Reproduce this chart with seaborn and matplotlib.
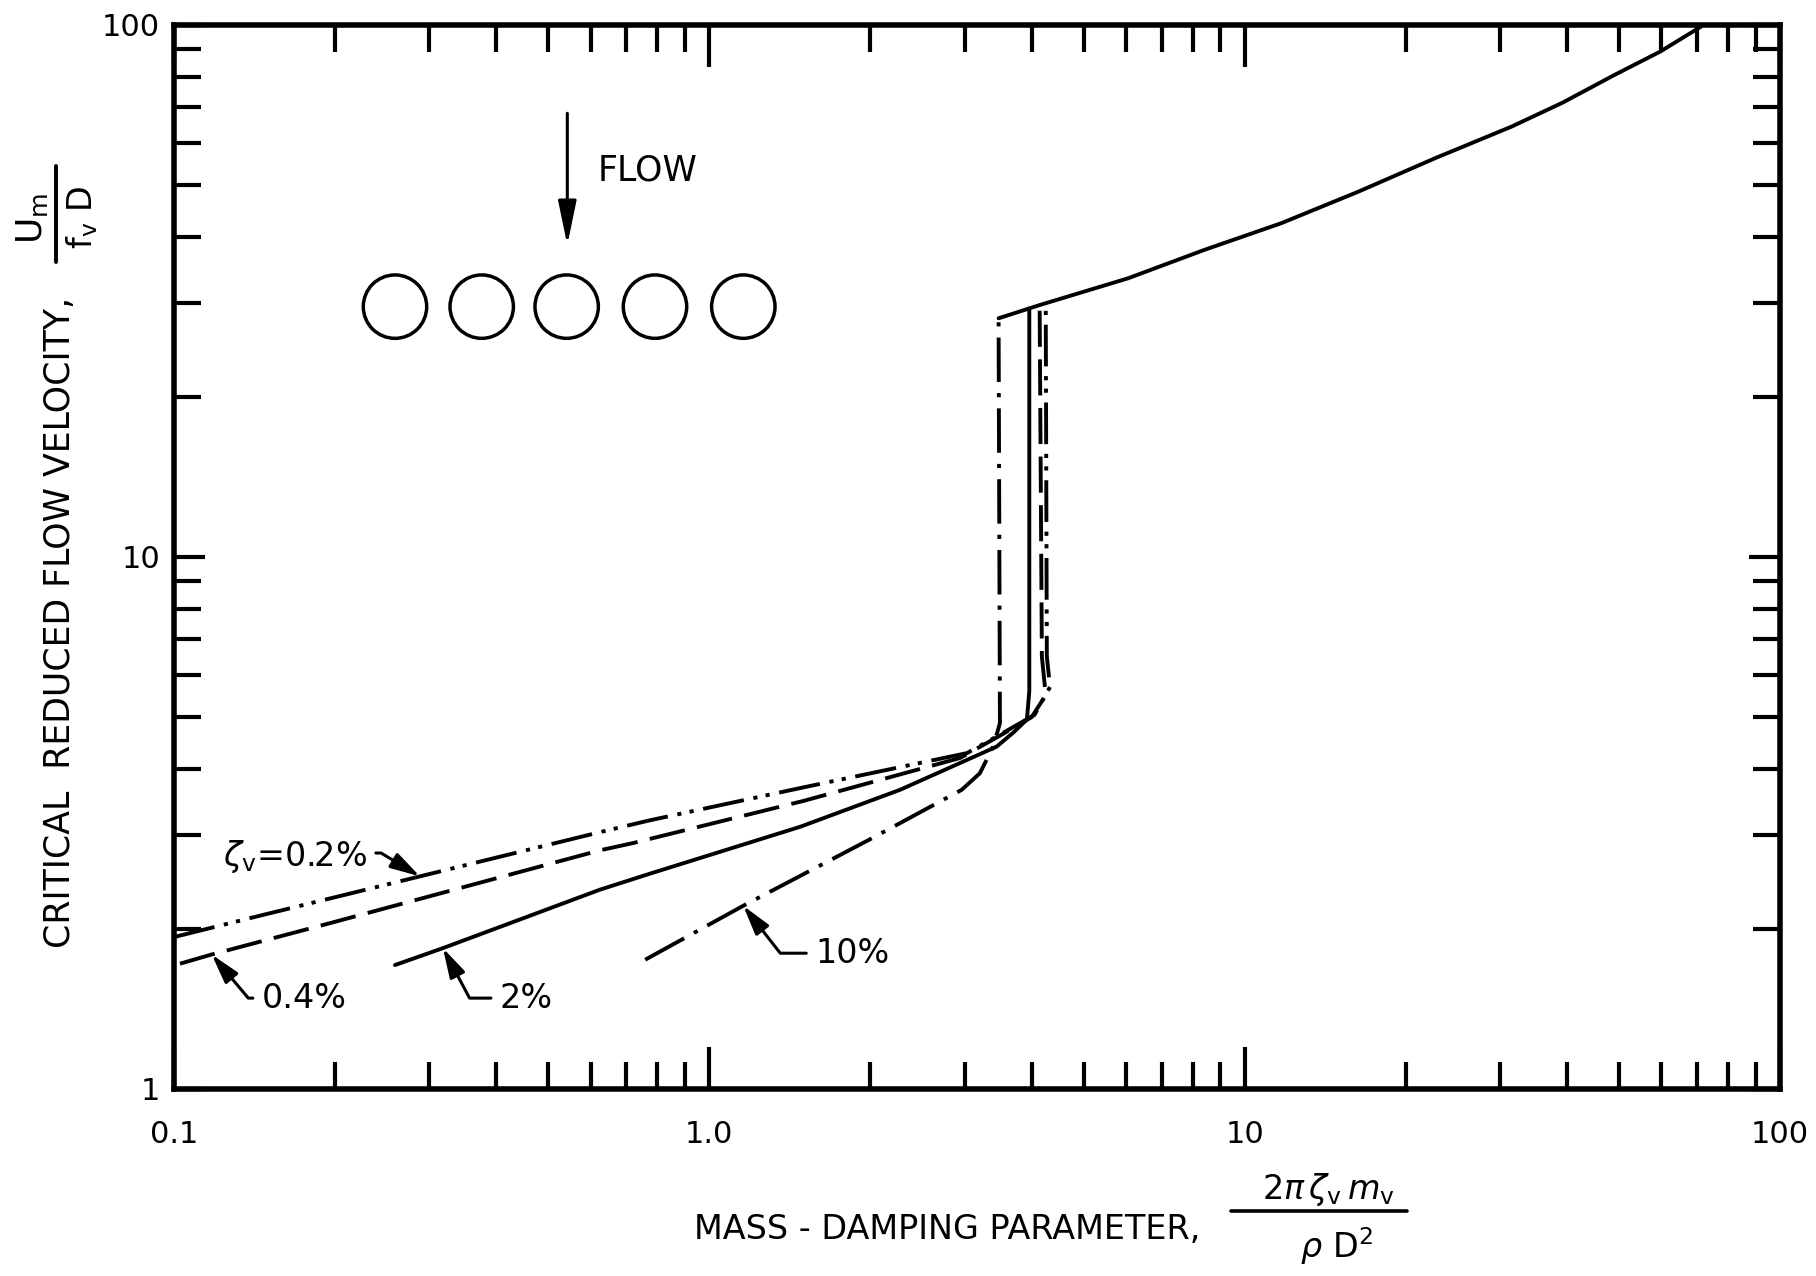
import numpy as np
import pandas as pd
import matplotlib
matplotlib.use("Agg")
import matplotlib.pyplot as plt
import seaborn as sns
from matplotlib.patches import Ellipse
from matplotlib.lines import Line2D
from matplotlib.ticker import FixedLocator, FixedFormatter, LogLocator, NullFormatter

# ---------------- data ----------------
# common upper branch (all damping ratios)
upper_x = [3.47, 4.16, 6.05, 8.42, 11.7, 16.3, 22.7, 31.5, 39.3, 49.0, 59.7, 71.2]
upper_y = [28.1, 29.8, 33.4, 37.8, 42.4, 48.6, 56.2, 64.4, 71.5, 80.5, 89.1, 99.3]

# zeta_v = 0.2 %  (dash-dot-dot)
z02_x = [0.100, 0.1427, 0.288, 0.625, 0.775, 1.50, 3.03, 3.47, 4.05, 4.33, 4.27, 4.25]
z02_y = [1.93, 2.11, 2.51, 3.04, 3.20, 3.69, 4.28, 4.62, 5.05, 5.70, 6.50, 30.0]

# zeta_v = 0.4 %  (dashed)
z04_x = [0.1026, 0.1176, 0.1956, 0.625, 0.721, 1.50, 2.94, 3.47, 4.00, 4.25, 4.18, 4.14]
z04_y = [1.72, 1.79, 2.05, 2.81, 2.90, 3.48, 4.19, 4.60, 5.00, 5.50, 6.50, 29.8]

# zeta_v = 2 %  (solid)
z2_x = [0.2587, 0.318, 0.625, 0.775, 1.477, 2.27, 3.44, 3.70, 3.92, 3.96, 3.96]
z2_y = [1.71, 1.84, 2.37, 2.54, 3.11, 3.65, 4.40, 4.68, 4.95, 5.60, 29.3]

# zeta_v = 10 %  (dash-dot)
z10_x = [0.759, 1.157, 2.00, 2.96, 3.20, 3.39, 3.49, 3.47]
z10_y = [1.75, 2.21, 2.95, 3.65, 3.92, 4.40, 4.87, 28.1]

series_labels = [r"$\zeta_{\rm v}$=0.2%", "0.4%", "2%", "10%"]
x_tick_vals = [0.1, 1, 10, 100]
x_tick_labels = ["0.1", "1.0", "10", "100"]
y_tick_vals = [1, 10, 100]
y_tick_labels = ["1", "10", "100"]

# ---------------- style ----------------
sns.set_theme(style="ticks")
plt.rcParams["font.family"] = ["DejaVu Sans"]
plt.rcParams["mathtext.fontset"] = "dejavusans"
plt.rcParams["lines.scale_dashes"] = False

fig = plt.figure(figsize=(18.16, 12.76), dpi=100)
fig.patch.set_facecolor("white")
ax = fig.add_axes([174 / 1816, 1 - 1089 / 1276, 1606 / 1816, 1064 / 1276])
ax.set_facecolor("white")
ax.set_xscale("log")
ax.set_yscale("log")

LW = 2.8
styles = [
    (z02_x, z02_y, (0, (30, 7, 3, 6, 3, 7))),
    (z04_x, z04_y, (0, (26, 9))),
    (z2_x, z2_y, "-"),
    (z10_x, z10_y, (0, (32, 8, 3, 8))),
    (upper_x, upper_y, "-"),
]
for xs, ys, ls in styles:
    df = pd.DataFrame({"x": xs, "y": ys})
    sns.lineplot(data=df, x="x", y="y", ax=ax, sort=False, estimator=None,
                 color="black", linewidth=LW, linestyle=ls, legend=False)

ax.set_xlim(0.1, 100)
ax.set_ylim(1, 100)
ax.set_xlabel("")
ax.set_ylabel("")

# ticks
ax.xaxis.set_major_locator(FixedLocator(x_tick_vals))
ax.xaxis.set_major_formatter(FixedFormatter(x_tick_labels))
ax.xaxis.set_minor_locator(LogLocator(base=10, subs=np.arange(2, 10), numticks=100))
ax.xaxis.set_minor_formatter(NullFormatter())
ax.yaxis.set_major_locator(FixedLocator(y_tick_vals))
ax.yaxis.set_major_formatter(FixedFormatter(y_tick_labels))
ax.yaxis.set_minor_locator(LogLocator(base=10, subs=np.arange(2, 10), numticks=100))
ax.yaxis.set_minor_formatter(NullFormatter())

ax.tick_params(axis="both", which="both", direction="in", top=True, right=True,
               color="black", width=3, labelcolor="black")
ax.tick_params(axis="x", which="major", length=30, pad=22, labelsize=22)
ax.tick_params(axis="x", which="minor", length=19.5)
ax.tick_params(axis="y", which="major", length=22, pad=10, labelsize=22)
ax.tick_params(axis="y", which="minor", length=19.5)
for s in ax.spines.values():
    s.set_visible(True)
    s.set_linewidth(4)
    s.set_color("black")

# ---- x axis label with a stacked fraction ----
ax.text(0.6389, -0.1325, "MASS - DAMPING PARAMETER,", transform=ax.transAxes,
        ha="right", va="center", fontsize=24, color="black")
ax.text(0.719, -0.0949, r"$2\pi\,\zeta_{\rm v}\,m_{\rm v}$", transform=ax.transAxes,
        ha="center", va="center", fontsize=24, color="black")
ax.add_line(Line2D([0.658, 0.768], [-0.1147, -0.1147], transform=ax.transAxes,
                   color="black", lw=2.6, clip_on=False))
ax.text(0.7235, -0.1476, r"$\rho\ \mathrm{D}^2$", transform=ax.transAxes,
        ha="center", va="center", fontsize=24, color="black")

# ---- y axis label with a stacked fraction ----
ax.text(-0.071, 0.4389, "CRITICAL  REDUCED FLOW VELOCITY,", transform=ax.transAxes,
        ha="center", va="center", rotation=90, fontsize=25, color="black")
ax.text(-0.0885, 0.8186, r"$\mathrm{U_m}$", transform=ax.transAxes,
        ha="center", va="center", rotation=90, fontsize=26, color="black")
ax.add_line(Line2D([-0.0735, -0.0735], [0.7773, 0.8675], transform=ax.transAxes,
                   color="black", lw=2.8, clip_on=False))
ax.text(-0.0573, 0.8195, r"$\mathrm{f_v\ D}$", transform=ax.transAxes,
        ha="center", va="center", rotation=90, fontsize=24, color="black")


# annotations with leaders
def on_curve(xs, ys, xq):
    lx = np.log10(xs)
    ly = np.log10(ys)
    return 10 ** np.interp(np.log10(xq), lx[:6], ly[:6])


ann = [
    (series_labels[0], z02_x, z02_y, 0.288, (0.2294, 2.733), "right", (1.0, 0.6), -31),
    (series_labels[1], z04_x, z04_y, 0.1176, (0.1458, 1.482), "left", (0.0, 0.5), 130),
    (series_labels[2], z2_x, z2_y, 0.318, (0.406, 1.482), "left", (0.0, 0.5), 118),
    (series_labels[3], z10_x, z10_y, 1.157, (1.576, 1.80), "left", (0.0, 0.5), 128),
]
for text, xs, ys, xt, pos, ha, rel, angB in ann:
    tip = (xt, on_curve(xs, ys, xt))
    ax.annotate(text, xy=tip, xytext=pos, xycoords="data", textcoords="data",
                ha=ha, va="center", fontsize=24, color="black",
                arrowprops=dict(arrowstyle="-|>,head_length=0.9,head_width=0.25",
                                mutation_scale=20, color="black", lw=2.2,
                                shrinkA=4, shrinkB=0, relpos=rel,
                                connectionstyle=f"angle,angleA=0,angleB={angB},rad=0"))

# flow sketch
ax.annotate("", xy=(0.2449, 0.7932), xytext=(0.2449, 0.917), xycoords="axes fraction",
            arrowprops=dict(arrowstyle="-|>,head_length=1.35,head_width=0.28",
                            mutation_scale=20, color="black", lw=2.2, shrinkA=0, shrinkB=0))
ax.text(0.264, 0.8637, "FLOW", transform=ax.transAxes, ha="left", va="center",
        fontsize=25, color="black")
for cx in [0.1376, 0.1916, 0.2445, 0.2995, 0.3545]:
    ax.add_patch(Ellipse((cx, 0.7353), width=2 * 0.01974, height=2 * 0.02979,
                         transform=ax.transAxes, fill=False, lw=2.5, color="black"))

fig.savefig("out.png", dpi=100, facecolor="white")
